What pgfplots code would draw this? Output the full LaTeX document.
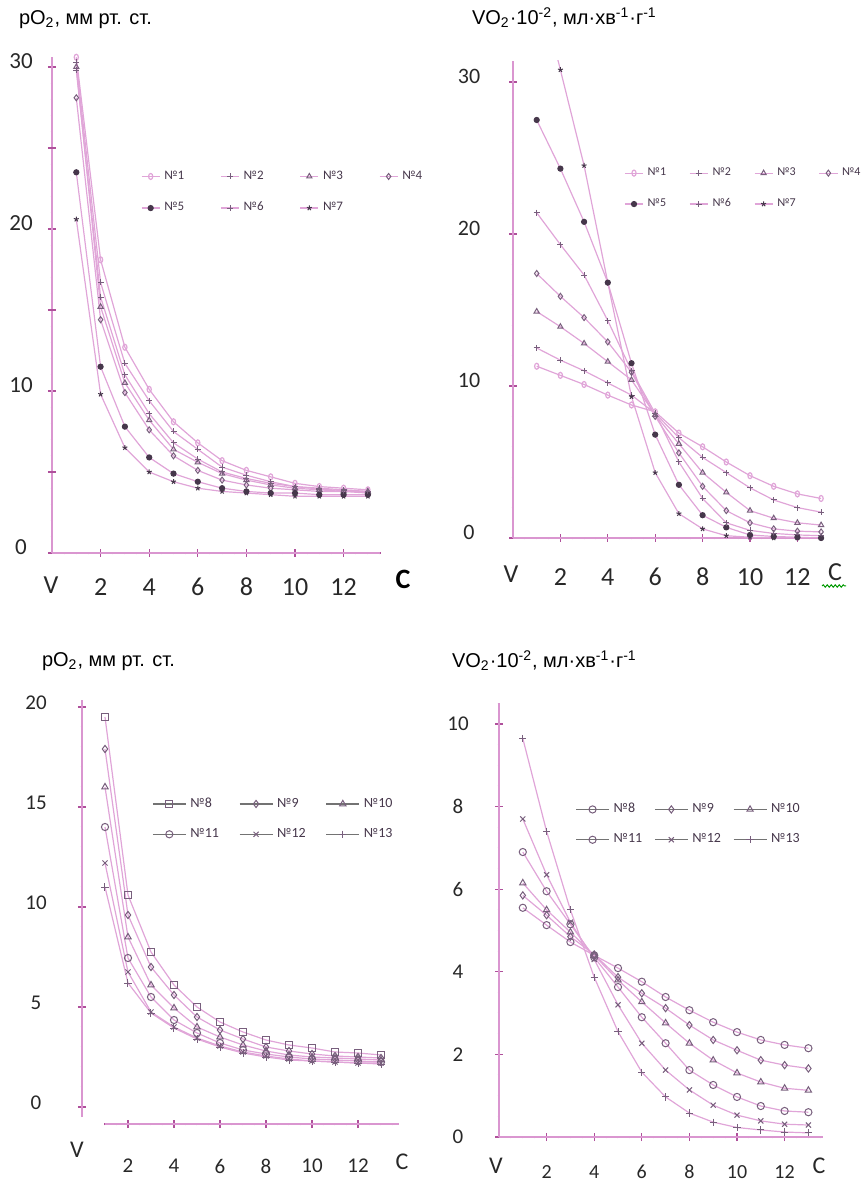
\documentclass[border=0pt]{standalone}
\usepackage{fontspec}
\setmainfont{Carlito}
\newfontfamily\arial{Liberation Sans}
\usepackage{pgfplots}
\pgfplotsset{compat=1.18}
\usetikzlibrary{decorations.pathmorphing}
\definecolor{pinkline}{RGB}{224,165,216}
\definecolor{axpink}{RGB}{218,150,208}
\definecolor{dotcol}{RGB}{175,80,155}
\definecolor{markcol}{RGB}{120,95,125}
\definecolor{markdark}{RGB}{70,55,75}
\definecolor{ticktext}{RGB}{40,40,40}
\pgfplotsset{
  panel/.style={
    /pgf/number format/assume math mode=true,
    axis x line=bottom, axis y line=left,
    axis line style={-, draw=axpink, line width=0.7pt},
    tick style={draw=dotcol, line width=0.6pt},
    major tick length=4pt, minor tick length=1.4pt,
    tick align=center,
    xticklabel style={anchor=center, text=ticktext, inner sep=0pt},
    yticklabel style={anchor=center, text=ticktext, inner sep=0pt},
    legend cell align=left,
    legend style={draw=none, fill=none, inner sep=0pt, text=markdark},
  },
  toplegend/.style={
    legend style={font=\fontsize{6.5}{7}\selectfont, row sep=6pt,
      /tikz/every even column/.append style={column sep=16pt}},
    legend image code/.code={\draw[mark repeat=2,mark phase=2,##1] plot coordinates {(0cm,0cm) (0.16cm,0cm) (0.32cm,0cm)};},
  },
  botlegend/.style={
    legend style={font=\fontsize{7}{8}\selectfont, row sep=5pt,
      /tikz/every even column/.append style={column sep=8pt}},
    legend image code/.code={\draw[mark repeat=2,mark phase=2,##1,draw=black!55] plot coordinates {(0cm,0cm) (0.29cm,0cm) (0.58cm,0cm)};},
  },
  S/.style={pinkline, line width=0.6pt, mark size=1.5pt, mark options={solid, draw=markcol, fill=white, line width=0.5pt}},
  F/.style={pinkline, line width=0.6pt, mark size=1.3pt, mark options={solid, draw=markdark, fill=markdark, line width=0.5pt}},
  B/.style={pinkline, line width=0.6pt, mark size=1.8pt, mark options={solid, draw=markcol, fill=white, line width=0.5pt}},
}
\begin{document}
\begin{tikzpicture}
\useasboundingbox (0pt,0pt) rectangle (431.5pt,592.5pt);
% ---------- top left ----------
\begin{axis}[panel, toplegend, at={(26pt,316pt)}, anchor=south west,
  x=12.15pt, y=8.1pt, xmin=0, xmax=13.5, ymin=0, ymax=30.6, clip=false,
  xtick={2,4,...,12}, minor xtick={0.5,1,...,13.5},
  ytick={0,10,20,30}, minor ytick={1,2,...,30},
  extra y ticks={5,15,25}, extra y tick labels={},
  xticklabel style={yshift=-15pt, font=\fontsize{13}{13}\selectfont},
  yticklabel style={xshift=-13.5pt, yshift=3pt, font=\fontsize{11.5}{12}\selectfont},
  legend columns=4, legend style={at={(0.27,0.78)}, anchor=north west}]
\addplot[S, mark=o, mark options={xscale=0.7}] coordinates {(1,30.6)(2,18.1)(3,12.7)(4,10.1)(5,8.1)(6,6.8)(7,5.7)(8,5.1)(9,4.7)(10,4.3)(11,4.1)(12,4.0)(13,3.9)};
\addlegendentry{№1}
\addplot[S, mark=+] coordinates {(1,30.3)(2,16.7)(3,11.7)(4,9.4)(5,7.5)(6,6.4)(7,5.3)(8,4.8)(9,4.4)(10,4.1)(11,4.0)(12,3.9)(13,3.8)};
\addlegendentry{№2}
\addplot[S, mark=triangle] coordinates {(1,30.0)(2,15.2)(3,10.5)(4,8.2)(5,6.4)(6,5.6)(7,4.9)(8,4.5)(9,4.2)(10,4.0)(11,3.9)(12,3.8)(13,3.8)};
\addlegendentry{№3}
\addplot[S, mark=diamond] coordinates {(1,28.1)(2,14.4)(3,9.9)(4,7.6)(5,6.0)(6,5.1)(7,4.5)(8,4.2)(9,4.0)(10,3.9)(11,3.8)(12,3.8)(13,3.7)};
\addlegendentry{№4}
\addplot[F, mark=*] coordinates {(1,23.5)(2,11.5)(3,7.8)(4,5.9)(5,4.9)(6,4.4)(7,4.0)(8,3.8)(9,3.7)(10,3.7)(11,3.6)(12,3.6)(13,3.6)};
\addlegendentry{№5}
\addplot[S, mark=+] coordinates {(1,29.8)(2,15.8)(3,11.0)(4,8.6)(5,6.8)(6,5.8)(7,5.0)(8,4.6)(9,4.3)(10,4.1)(11,3.95)(12,3.85)(13,3.8)};
\addlegendentry{№6}
\addplot[F, mark=star] coordinates {(1,20.6)(2,9.8)(3,6.5)(4,5.0)(5,4.4)(6,4.0)(7,3.8)(8,3.7)(9,3.6)(10,3.5)(11,3.5)(12,3.5)(13,3.5)};
\addlegendentry{№7}
\end{axis}
% ---------- top right ----------
\begin{axis}[panel, toplegend, at={(256.5pt,323.5pt)}, anchor=south west,
  x=11.85pt, y=7.6pt, xmin=0, xmax=13, ymin=0, ymax=31.4,
  xtick={2,4,...,12}, minor xtick={0.5,1,...,13},
  ytick={0,10,20,30}, minor ytick={2,4,...,30},
  xticklabel style={yshift=-17.5pt, font=\fontsize{13}{13}\selectfont},
  yticklabel style={xshift=-20pt, yshift=3pt, font=\fontsize{11}{12}\selectfont},
  legend columns=4, legend style={at={(0.36,0.785)}, anchor=north west, font=\fontsize{6}{7}\selectfont,
    /tikz/every even column/.append style={column sep=9.5pt}}]
\addplot[S, mark=o, mark options={xscale=0.7}] coordinates {(1,11.3)(2,10.7)(3,10.1)(4,9.4)(5,8.75)(6,8.3)(7,6.9)(8,6.0)(9,5.0)(10,4.1)(11,3.4)(12,2.9)(13,2.6)};
\addlegendentry{№1}
\addplot[S, mark=+] coordinates {(1,12.5)(2,11.7)(3,11.0)(4,10.2)(5,9.4)(6,8.2)(7,6.6)(8,5.3)(9,4.3)(10,3.3)(11,2.5)(12,2.0)(13,1.7)};
\addlegendentry{№2}
\addplot[S, mark=triangle] coordinates {(1,14.9)(2,13.9)(3,12.8)(4,11.6)(5,10.4)(6,8.1)(7,6.2)(8,4.3)(9,3.0)(10,1.8)(11,1.3)(12,1.0)(13,0.85)};
\addlegendentry{№3}
\addplot[S, mark=diamond] coordinates {(1,17.4)(2,15.9)(3,14.5)(4,12.9)(5,10.9)(6,8.0)(7,5.6)(8,3.4)(9,1.8)(10,1.0)(11,0.6)(12,0.45)(13,0.4)};
\addlegendentry{№4}
\addplot[F, mark=*] coordinates {(1,27.5)(2,24.3)(3,20.8)(4,16.8)(5,11.5)(6,6.8)(7,3.5)(8,1.5)(9,0.7)(10,0.2)(11,0.1)(12,0.05)(13,0.0)};
\addlegendentry{№5}
\addplot[S, mark=+] coordinates {(1,21.4)(2,19.3)(3,17.3)(4,14.3)(5,11.0)(6,8.2)(7,5.0)(8,2.6)(9,1.0)(10,0.5)(11,0.3)(12,0.2)(13,0.15)};
\addlegendentry{№6}
\addplot[F, mark=star] coordinates {(1,37.0)(2,30.8)(3,24.5)(4,16.8)(5,9.3)(6,4.3)(7,1.6)(8,0.6)(9,0.15)(10,0.05)(11,0)(12,0)(13,0)};
\addlegendentry{№7}
\end{axis}
% ---------- bottom left ----------
\begin{axis}[panel, botlegend, at={(41pt,30.5pt)}, anchor=south west,
  x=11.5pt, y=10pt, xmin=0, xmax=13.8, ymin=-0.85, ymax=20.35, clip=false,
  x axis line style={draw=none}, y axis line style={draw=none},
  xtick={2,4,...,12}, minor xtick={1,1.5,...,13.5},
  ytick={0,5,10,15,20}, minor ytick={0,1,...,20},
  xticklabel style={yshift=-19pt, font=\fontsize{10.5}{11}\selectfont},
  yticklabel style={xshift=-21pt, yshift=2pt, font=\fontsize{10.5}{11}\selectfont},
  legend columns=3, legend style={at={(0.22,0.78)}, anchor=north west}]
\draw[axpink, line width=0.7pt] (axis cs:1,-0.85) -- (axis cs:13.8,-0.85);
\draw[axpink, line width=0.7pt] (axis cs:0,-0.5) -- (axis cs:0,20.35);
\addplot[B, mark=square] coordinates {(1,19.5)(2,10.6)(3,7.75)(4,6.1)(5,5.0)(6,4.25)(7,3.75)(8,3.35)(9,3.1)(10,2.95)(11,2.75)(12,2.7)(13,2.6)};
\addlegendentry{№8}
\addplot[B, mark=diamond] coordinates {(1,17.9)(2,9.6)(3,7.0)(4,5.6)(5,4.5)(6,3.85)(7,3.4)(8,3.0)(9,2.8)(10,2.65)(11,2.55)(12,2.5)(13,2.45)};
\addlegendentry{№9}
\addplot[B, mark=triangle] coordinates {(1,16.0)(2,8.5)(3,6.1)(4,4.95)(5,4.0)(6,3.5)(7,3.1)(8,2.8)(9,2.6)(10,2.5)(11,2.45)(12,2.4)(13,2.35)};
\addlegendentry{№10}
\addplot[B, mark=o] coordinates {(1,14.0)(2,7.45)(3,5.5)(4,4.35)(5,3.7)(6,3.2)(7,2.85)(8,2.65)(9,2.5)(10,2.4)(11,2.35)(12,2.3)(13,2.25)};
\addlegendentry{№11}
\addplot[B, mark=x] coordinates {(1,12.2)(2,6.75)(3,4.75)(4,4.0)(5,3.45)(6,3.05)(7,2.75)(8,2.55)(9,2.4)(10,2.3)(11,2.25)(12,2.2)(13,2.2)};
\addlegendentry{№12}
\addplot[B, mark=+] coordinates {(1,11.0)(2,6.2)(3,4.7)(4,3.95)(5,3.4)(6,3.0)(7,2.7)(8,2.5)(9,2.35)(10,2.3)(11,2.25)(12,2.2)(13,2.15)};
\addlegendentry{№13}
\end{axis}
% ---------- bottom right ----------
\begin{axis}[panel, botlegend, at={(249.5pt,24pt)}, anchor=south west,
  x=11.9pt, y=20.65pt, xmin=0, xmax=13.6, ymin=0, ymax=10.5, clip=false,
  xtick={2,4,...,12}, minor xtick={0.5,1,...,13.5},
  ytick={0,2,...,10}, minor ytick={0.5,1,...,10.5},
  xticklabel style={yshift=-15.5pt, font=\fontsize{10}{11}\selectfont},
  yticklabel style={xshift=-18.5pt, font=\fontsize{10.5}{11}\selectfont},
  legend columns=3, legend style={at={(0.235,0.78)}, anchor=north west,
    /tikz/every even column/.append style={column sep=4pt}}]
\addplot[B, mark=o] coordinates {(1,5.55)(2,5.13)(3,4.72)(4,4.4)(5,4.09)(6,3.76)(7,3.39)(8,3.07)(9,2.78)(10,2.54)(11,2.35)(12,2.23)(13,2.15)};
\addlegendentry{№8}
\addplot[B, mark=diamond] coordinates {(1,5.85)(2,5.37)(3,4.85)(4,4.42)(5,3.87)(6,3.48)(7,3.12)(8,2.71)(9,2.35)(10,2.1)(11,1.86)(12,1.74)(13,1.66)};
\addlegendentry{№9}
\addplot[B, mark=triangle] coordinates {(1,6.15)(2,5.5)(3,4.96)(4,4.4)(5,3.8)(6,3.27)(7,2.76)(8,2.27)(9,1.86)(10,1.55)(11,1.33)(12,1.18)(13,1.13)};
\addlegendentry{№10}
\addplot[B, mark=o] coordinates {(1,6.9)(2,5.95)(3,5.15)(4,4.35)(5,3.63)(6,2.9)(7,2.27)(8,1.62)(9,1.26)(10,0.97)(11,0.75)(12,0.63)(13,0.6)};
\addlegendentry{№11}
\addplot[B, mark=x] coordinates {(1,7.7)(2,6.35)(3,5.2)(4,4.3)(5,3.2)(6,2.27)(7,1.62)(8,1.14)(9,0.77)(10,0.53)(11,0.39)(12,0.31)(13,0.29)};
\addlegendentry{№12}
\addplot[B, mark=+] coordinates {(1,9.65)(2,7.4)(3,5.5)(4,3.87)(5,2.55)(6,1.57)(7,0.97)(8,0.58)(9,0.36)(10,0.23)(11,0.17)(12,0.12)(13,0.1)};
\addlegendentry{№13}
\end{axis}
% ---------- titles and axis letters ----------
\node[anchor=base west, font=\arial\fontsize{10}{12}\selectfont] at (6pt,580pt) {pO\textsubscript{2}, мм рт. ст.};
\node[anchor=base west, font=\arial\fontsize{10}{12}\selectfont] at (232.5pt,580pt) {VO\textsubscript{2}·10\textsuperscript{-2}, мл·хв\textsuperscript{-1}·г\textsuperscript{-1}};
\node[anchor=base west, font=\arial\fontsize{10}{12}\selectfont] at (17.5pt,259pt) {pO\textsubscript{2}, мм рт. ст.};
\node[anchor=base west, font=\arial\fontsize{10}{12}\selectfont] at (222.5pt,258.5pt) {VO\textsubscript{2}·10\textsuperscript{-2}, мл·хв\textsuperscript{-1}·г\textsuperscript{-1}};
\node[inner sep=0pt, font=\fontsize{13}{13}\selectfont, text=ticktext] at (25.5pt,300pt) {V};
\node[inner sep=0pt, font=\fontsize{14}{14}\selectfont\bfseries] at (201.5pt,303pt) {C};
\node[inner sep=0pt, font=\fontsize{13}{13}\selectfont, text=ticktext] at (255.5pt,305.5pt) {V};
\node[inner sep=0pt, font=\fontsize{13}{13}\selectfont, text=ticktext] at (417.5pt,306.5pt) {C};
\draw[green!60!black, line width=0.5pt, decorate, decoration={snake, amplitude=0.6pt, segment length=2pt}] (411pt,299.5pt) -- (423pt,299.5pt);
\node[inner sep=0pt, font=\fontsize{12}{12}\selectfont, text=ticktext] at (38.5pt,17.5pt) {V};
\node[inner sep=0pt, font=\fontsize{12}{12}\selectfont, text=ticktext] at (201pt,11.5pt) {C};
\node[inner sep=0pt, font=\fontsize{12}{12}\selectfont, text=ticktext] at (248pt,9.5pt) {V};
\node[inner sep=0pt, font=\fontsize{12}{12}\selectfont, text=ticktext] at (409.5pt,9.5pt) {C};
\end{tikzpicture}
\end{document}
